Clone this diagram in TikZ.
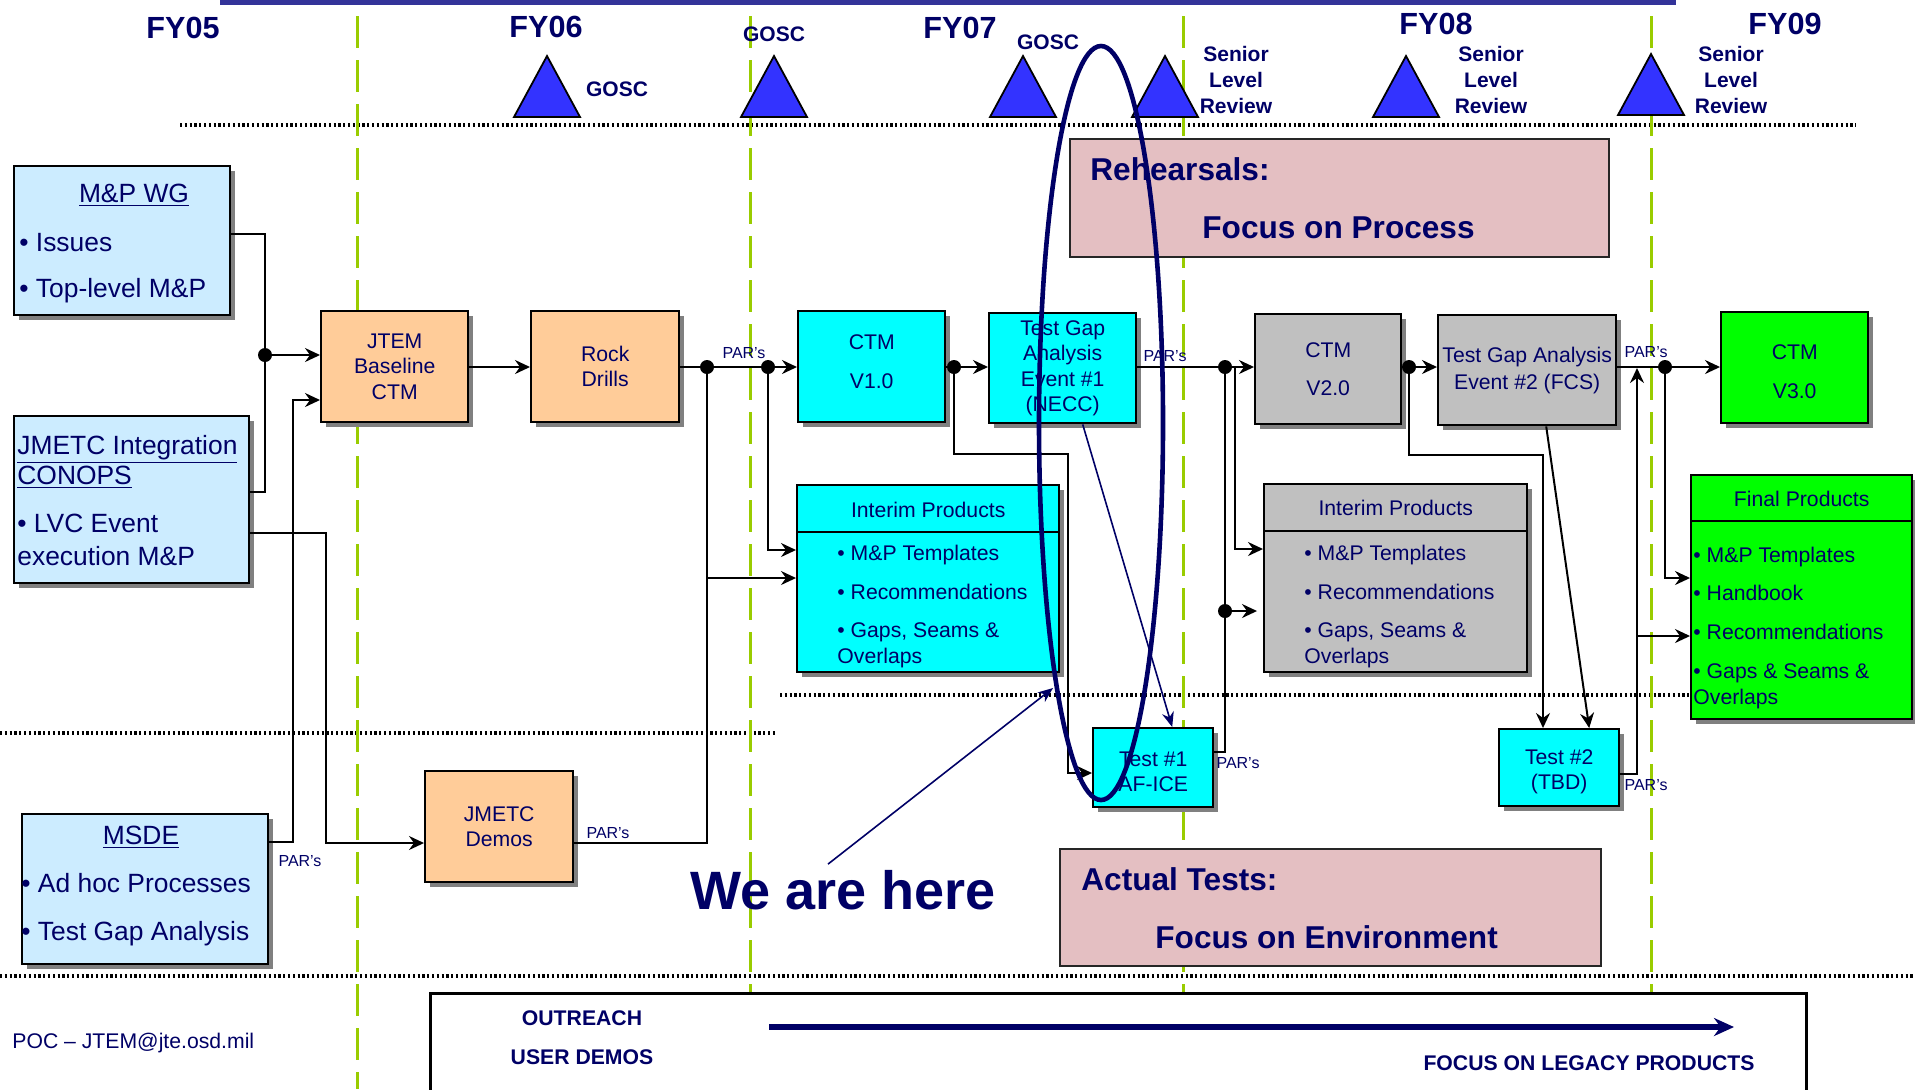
\documentclass[tikz,border=0pt]{standalone}
\usepackage{fontspec}
\setmainfont{Liberation Sans}
\usetikzlibrary{calc}
\usetikzlibrary{arrows.meta}
\usetikzlibrary{shadows}
\usetikzlibrary{positioning}

\definecolor{txtnavy}{HTML}{000066}
\definecolor{barcol}{HTML}{333399}
\definecolor{boxblue}{HTML}{CCECFF}
\definecolor{boxpeach}{HTML}{FFCC99}
\definecolor{boxcyan}{HTML}{00FFFF}
\definecolor{boxgray}{HTML}{C0C0C0}
\definecolor{boxgreen}{HTML}{00FF00}
\definecolor{boxpink}{HTML}{E4BFC2}
\definecolor{tricol}{HTML}{3333FF}
\definecolor{fycol}{HTML}{99CC00}

\tikzset{
  box/.style={draw=black, line width=1.2pt, anchor=north west, inner sep=0pt,
    drop shadow={shadow xshift=2.5pt, shadow yshift=-2.5pt, fill=black!50, opacity=1}},
  plate/.style={draw=black!85, line width=1.2pt, fill=boxpink, anchor=north west, inner sep=0pt},
  boxtxt/.style={text=txtnavy, font=\fontsize{10.6}{12.7}\selectfont, align=center},
  linetxt/.style={text=txtnavy, font=\fontsize{10.6}{12.7}\selectfont, inner sep=0pt, text height=7.6pt, text depth=0pt},
  sidetxt/.style={text=txtnavy, font=\fontsize{13.2}{16}\selectfont, inner sep=0pt, text height=9.5pt, text depth=0pt, anchor=west},
  yeartxt/.style={text=txtnavy, font=\bfseries\fontsize{15.3}{18}\selectfont, inner sep=0pt, text height=11pt, text depth=0pt},
  mstxt/.style={text=txtnavy, font=\bfseries\fontsize{10.5}{13}\selectfont, align=center, inner sep=0pt},
  platetxt/.style={text=txtnavy, font=\bfseries\fontsize{15.8}{19}\selectfont, inner sep=0pt, text height=11.4pt, text depth=0pt, anchor=west},
  partxt/.style={text=txtnavy, font=\fontsize{8}{9}\selectfont, inner sep=0pt, text height=5.8pt, text depth=0pt},
  legtxt/.style={text=txtnavy, font=\bfseries\fontsize{10.6}{12.7}\selectfont, inner sep=0pt, text height=7.6pt, text depth=0pt},
  link/.style={draw=black, line width=1pt},
  arr/.style={link, -{Stealth[length=7.5pt, width=7pt, inset=2.5pt]}},
  navyarr/.style={draw=txtnavy, line width=0.8pt, -{Stealth[length=7.5pt, width=6pt, inset=2.5pt]}},
  jdot/.style={circle, fill=black, inner sep=0pt, minimum size=7pt},
  fyline/.style={draw=fycol, line width=1.5pt, dash pattern=on 16pt off 6pt},
  dotline/.style={draw=black, line width=1.6pt, dash pattern=on 1.1pt off 1.3pt},
  milestone/.style={fill=tricol, draw=black, line width=0.9pt},
}

\begin{document}
\begin{tikzpicture}[x=0.5pt, y=-0.5pt]
    \useasboundingbox (0,0) rectangle (1915,1089);
    \fill[white] (0,0) rectangle (1915,1089);
    \fill[barcol] (220,0) rectangle (1676,5);

    % lanes
    \draw[dotline] (180,125) -- (1856,125);
    \draw[dotline] (0,733) -- (777,733);
    \draw[dotline] (780,695) -- (1690,695);
    \draw[dotline] (0,976) -- (1915,976);

    % years and milestones
    \node[yeartxt] (fy05) at (183,27) {FY05};
    \node[yeartxt] (fy06) at (546,26) {FY06};
    \node[yeartxt] (fy07) at (960,27) {FY07};
    \node[yeartxt] (fy08) at (1436,23) {FY08};
    \node[yeartxt] (fy09) at (1785,23) {FY09};

    \foreach \x in {357,750,1183,1651}
        \draw[fyline] (\x,16) -- (\x,1089);

    \foreach \x/\y in {547/56,774/56,1023/56,1165/56,1406/56,1651/54}
        \draw[milestone] (\x-33,\y+61) -- (\x,\y) -- (\x+33,\y+61) -- cycle;
    \node[mstxt] (gosca) at (617,89) {GOSC};
    \node[mstxt] (goscb) at (774,34) {GOSC};
    \node[mstxt] (goscc) at (1048,42) {GOSC};
    \foreach \x in {1236,1491,1731}
        \node[mstxt] (slr\x) at (\x,80) {Senior\\Level\\Review};

    % rehearsals / tests
    \node[plate, minimum width=269.5pt, minimum height=59pt] (rehearse) at (1069,138) {};
    \node[platetxt] (rehearsea) at (1090,169) {Rehearsals:};
    \node[platetxt] (rehearseb) at (1202,227) {Focus on Process};
    \node[plate, minimum width=270.5pt, minimum height=58.5pt] (actual) at (1059,848) {};
    \node[platetxt] (actuala) at (1081,879) {Actual Tests:};
    \node[platetxt] (actualb) at (1155,937) {Focus on Environment};

    % inputs
    \node[box, fill=boxblue, minimum width=108pt, minimum height=74.5pt] (mpwg) at (13,165) {};
    \node[sidetxt, anchor=center] (mpwgt) at (134,193) {\underline{M\&P WG}};
    \node[sidetxt] (mpwga) at (19,242) {• Issues};
    \node[sidetxt] (mpwgb) at (19,288) {• Top-level M\&P};

    \node[box, fill=boxblue, minimum width=117.5pt, minimum height=83.5pt] (jmetcint) at (13,415) {};
    \node[sidetxt] (jmetcinta) at (17,445) {\underline{JMETC Integration}};
    \node[sidetxt] (jmetcintb) at (17,475) {\underline{CONOPS}};
    \node[sidetxt] (jmetcintc) at (17,523) {• LVC Event};
    \node[sidetxt] (jmetcintd) at (17,556) {execution M\&P};

    \node[box, fill=boxblue, minimum width=123pt, minimum height=75pt] (msde) at (21,813) {};
    \node[sidetxt, anchor=center] (msdet) at (141,835) {\underline{MSDE}};
    \node[sidetxt] (msdea) at (21,883) {• Ad hoc Processes};
    \node[sidetxt] (msdeb) at (21,931) {• Test Gap Analysis};

    % process boxes
    \node[box, fill=boxpeach, minimum width=73.5pt, minimum height=55.5pt, boxtxt] (jtem) at (320,310) {JTEM\\Baseline\\CTM};
    \node[box, fill=boxpeach, minimum width=74pt, minimum height=55.5pt, boxtxt] (rock) at (530,310) {Rock\\Drills};
    \node[box, fill=boxpeach, minimum width=74pt, minimum height=55.5pt, boxtxt] (demos) at (424,770) {JMETC\\Demos};

    \node[box, fill=boxcyan, minimum width=73.5pt, minimum height=55.5pt] (ctmone) at (797,310) {};
    \node[boxtxt] (ctmonet) at ($(ctmone.center)+(0,-5)$) {CTM\\[6.5pt]V1.0};
    \node[box, fill=boxcyan, minimum width=73.5pt, minimum height=55pt, boxtxt] (tgaone) at (988,312) {Test Gap\\Analysis\\Event \#1\\(NECC)};
    \node[box, fill=boxcyan, minimum width=60pt, minimum height=39.5pt] (testone) at (1092,727) {};
    \node[boxtxt] (testonet) at ($(testone.center)+(0,4)$) {Test \#1\\AF-ICE};

    \node[box, fill=boxgray, minimum width=73pt, minimum height=55pt, boxtxt] (ctmtwo) at (1254,313) {CTM\\[6pt]V2.0};
    \node[box, fill=boxgray, minimum width=89pt, minimum height=55pt, boxtxt, font=\fontsize{10.6}{13.5}\selectfont] (tgatwo) at (1437,314) {Test Gap Analysis\\Event \#2 (FCS)};
    \node[box, fill=boxcyan, minimum width=60pt, minimum height=38.5pt] (testtwo) at (1498,728) {};
    \node[boxtxt] (testtwot) at ($(testtwo.center)+(0,4)$) {Test \#2\\(TBD)};

    \node[box, fill=boxgreen, minimum width=73.5pt, minimum height=55.5pt] (ctmthree) at (1720,311) {};
    \node[boxtxt] (ctmthreet) at ($(ctmthree.center)+(0,4)$) {CTM\\[7pt]V3.0};

    % product boxes
    \node[box, fill=boxcyan, minimum width=131pt, minimum height=93.5pt] (interimone) at (796,484) {};
    \draw[line width=1.2pt] ($(interimone.north west)+(0,48)$) -- ($(interimone.north east)+(0,48)$);
    \node[linetxt] (ipone) at ($(interimone.north)+(0,26)$) {Interim Products};
    \node[linetxt, anchor=west] (iponea) at (837,553) {• M\&P Templates};
    \node[linetxt, anchor=west] (iponeb) at (837,592) {• Recommendations};
    \node[linetxt, anchor=west] (iponec) at (837,630) {• Gaps, Seams \&};
    \node[linetxt, anchor=west] (iponed) at (837,656) {Overlaps};

    \node[box, fill=boxgray, minimum width=131.5pt, minimum height=94pt] (interimtwo) at (1263,483) {};
    \draw[line width=1.2pt] ($(interimtwo.north west)+(0,48)$) -- ($(interimtwo.north east)+(0,48)$);
    \node[linetxt] (iptwo) at ($(interimtwo.north)+(0,25)$) {Interim Products};
    \node[linetxt, anchor=west] (iptwoa) at (1304,553) {• M\&P Templates};
    \node[linetxt, anchor=west] (iptwob) at (1304,592) {• Recommendations};
    \node[linetxt, anchor=west] (iptwoc) at (1304,630) {• Gaps, Seams \&};
    \node[linetxt, anchor=west] (iptwod) at (1304,656) {Overlaps};

    \node[box, fill=boxgreen, minimum width=110.5pt, minimum height=122pt] (final) at (1690,474) {};
    \draw[line width=1.2pt] ($(final.north west)+(0,47)$) -- ($(final.north east)+(0,47)$);
    \node[linetxt] (fp) at ($(final.north)+(0,25)$) {Final Products};
    \node[linetxt, anchor=west] (fpa) at (1693,555) {• M\&P Templates};
    \node[linetxt, anchor=west] (fpb) at (1693,593) {• Handbook};
    \node[linetxt, anchor=west] (fpc) at (1693,632) {• Recommendations};
    \node[linetxt, anchor=west] (fpd) at (1693,671) {• Gaps \& Seams \&};
    \node[linetxt, anchor=west] (fpe) at (1693,697) {Overlaps};

    % junctions
    \node[jdot] (dotA) at (265,355) {};
    \node[jdot] (dotB) at (707,367) {};
    \node[jdot] (dotC) at (768,367) {};
    \node[jdot] (dotD) at (954,367) {};
    \node[jdot] (dotE) at (1225,367) {};
    \node[jdot] (dotF) at (1225,611) {};
    \node[jdot] (dotG) at (1409,367) {};
    \node[jdot] (dotH) at (1665,367) {};

    \coordinate (busA) at (265,234);
    \coordinate (busB) at (265,492);
    \coordinate (msdeA) at (293,842);
    \coordinate (msdeB) at (293,400);
    \coordinate (intA) at (326,533);
    \coordinate (intB) at (326,843);
    \coordinate (demoA) at (707,843);
    \coordinate (demoB) at (707,578);
    \coordinate (ctmoneA) at (768,550);
    \coordinate (tA) at (954,454);
    \coordinate (tB) at (1068,454);
    \coordinate (tC) at (1068,773);
    \coordinate (eA) at (1235,367);
    \coordinate (eB) at (1235,549);
    \coordinate (sA) at (1225,752);
    \coordinate (gA) at (1409,455);
    \coordinate (gB) at (1543,455);
    \coordinate (hA) at (1665,578);
    \coordinate (kA) at (1637,774);
    \coordinate (kB) at (1637,368);
    \coordinate (kC) at (1637,636);

    % connectors
    \draw[link] (mpwg.east |- busA) -- (busA) -- (busB) -- (jmetcint.east |- busB);
    \draw[arr] (dotA) -- (jtem.west |- dotA);
    \draw[arr] (msde.east |- msdeA) -- (msdeA) -- (msdeB) -- (jtem.west |- msdeB);
    \draw[arr] (jmetcint.east |- intA) -- (intA) -- (intB) -- (demos.west |- intB);
    \draw[arr] (jtem.east |- dotB) -- (rock.west |- dotB);
    \draw[arr] (rock.east |- dotB) -- (dotB) -- (dotC) -- (ctmone.west |- dotC);
    \draw[link] (demos.east |- demoA) -- (demoA) -- (dotB);
    \draw[arr] (demoB) -- (interimone.west |- demoB);
    \draw[arr] (dotC) -- (ctmoneA) -- (interimone.west |- ctmoneA);
    \draw[arr] (ctmone.east |- dotD) -- (dotD) -- (tgaone.west |- dotD);
    \draw[arr] (dotD) -- (tA) -- (tB) -- (tC) -- (testone.west |- tC);
    \draw[navyarr] ($(tgaone.south)+(20,0)$) -- ($(testone.north)+(19,0)$);
    \draw[arr] (tgaone.east |- dotE) -- (dotE) -- (ctmtwo.west |- dotE);
    \draw[arr] (eA) -- (eB) -- (interimtwo.west |- eB);
    \draw[link] (testone.east |- sA) -- (sA) -- (dotF) -- (dotE);
    \draw[arr, shorten >=3pt] (dotF) -- (interimtwo.west |- dotF);
    \draw[arr] (ctmtwo.east |- dotG) -- (dotG) -- (tgatwo.west |- dotG);
    \draw[arr] (dotG) -- (gA) -- (gB) -- (testtwo.north -| gB);
    \draw[arr] ($(tgatwo.south)+(19,0)$) -- ($(testtwo.north)+(30,0)$);
    \draw[arr] (tgatwo.east |- dotH) -- (dotH) -- (ctmthree.west |- dotH);
    \draw[arr] (dotH) -- (hA) -- (final.west |- hA);
    \draw[arr] (testtwo.east |- kA) -- (kA) -- (kB);
    \draw[arr] (kC) -- (final.west |- kC);

    \node[partxt] (parA) at (300,861) {PAR's};
    \node[partxt] (parB) at (608,833) {PAR's};
    \node[partxt] (parC) at (744,353) {PAR's};
    \node[partxt] (parD) at (1165,356) {PAR's};
    \node[partxt] (parE) at (1238,763) {PAR's};
    \node[partxt] (parF) at (1646,352) {PAR's};
    \node[partxt] (parG) at (1646,785) {PAR's};

    % we are here
    \draw[draw=txtnavy, line width=2.3pt] (1101,423) ellipse [x radius=62, y radius=377];
    \node[text=txtnavy, font=\bfseries\fontsize{27}{30}\selectfont, inner sep=0pt, text height=19.5pt, text depth=0pt] (here) at (843,890) {We are here};
    \coordinate (herePt) at (1053,688);
    \draw[navyarr] ($(here.north)+(-15,-6)$) -- (herePt);

    % legend
    \node[draw=black, line width=1.5pt, fill=white, anchor=north west, inner sep=0pt,
          minimum width=688pt, minimum height=60pt] (legend) at (429,992) {};
    \node[legtxt] (outreach) at (582,1018) {OUTREACH};
    \node[legtxt] (userdemos) at (582,1057) {USER DEMOS};
    \node[legtxt] (legacy) at (1589,1063) {FOCUS ON LEGACY PRODUCTS};
    \coordinate (legA) at (769,1027);
    \coordinate (legB) at (1734,1027);
    \draw[draw=txtnavy, line width=3.3pt, -{Stealth[length=10pt, width=9pt]}] (legA) -- (legB);
    \node[text=txtnavy, font=\fontsize{10.6}{12.7}\selectfont, inner sep=0pt, anchor=west] (poc) at (12,1043) {POC – JTEM@jte.osd.mil};
\end{tikzpicture}
\end{document}
